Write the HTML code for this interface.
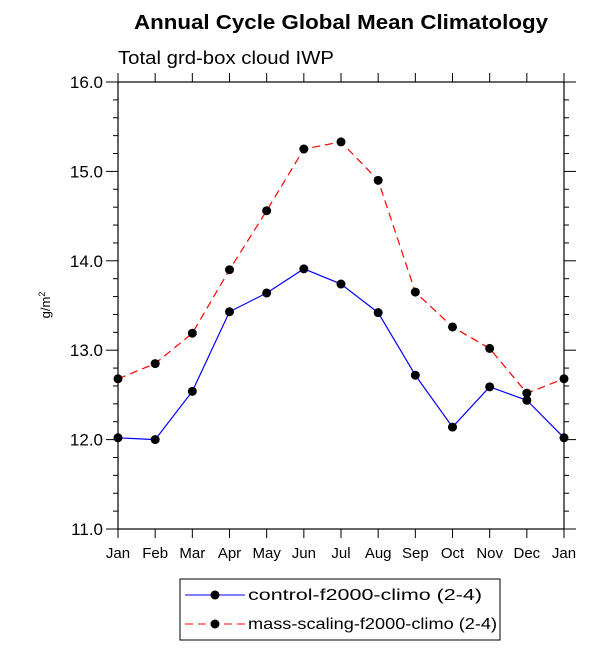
<!DOCTYPE html>
<html><head><meta charset="utf-8"><style>
body{margin:0;background:#fff;font-family:"Liberation Sans",Arial,sans-serif}
</style></head><body>
<svg id="chart" width="612" height="653" xmlns="http://www.w3.org/2000/svg" font-family="Liberation Sans, Arial, sans-serif">
<text x="134" y="29" font-size="20" font-weight="bold" textLength="414" lengthAdjust="spacingAndGlyphs">Annual Cycle Global Mean Climatology</text>
<text x="118" y="64" font-size="18" textLength="216" lengthAdjust="spacingAndGlyphs">Total grd-box cloud IWP</text>
<text transform="translate(50,305) rotate(-90)" text-anchor="middle" font-size="13">g/m<tspan font-size="9" dy="-5">2</tspan></text>
<g id="axes"></g>
<g id="series"></g>
<g>
<rect x="180" y="579" width="320" height="61" fill="none" stroke="#000" stroke-width="1"/>
<line x1="185" y1="595" x2="245" y2="595" stroke="#00f" stroke-width="1"/>
<circle cx="215" cy="595" r="4.5" fill="#000"/>
<text x="248" y="600" font-size="16" textLength="234" lengthAdjust="spacingAndGlyphs">control-f2000-climo (2-4)</text>
<line x1="185" y1="624" x2="245" y2="624" stroke="#f00" stroke-width="1" stroke-dasharray="8,5"/>
<circle cx="215" cy="624" r="4.5" fill="#000"/>
<text x="248" y="629" font-size="16" textLength="249" lengthAdjust="spacingAndGlyphs">mass-scaling-f2000-climo (2-4)</text>
</g>
</svg>
<script>
const months=["Jan","Feb","Mar","Apr","May","Jun","Jul","Aug","Sep","Oct","Nov","Dec","Jan"];
const controlVals=[12.02,12.0,12.54,13.43,13.64,13.91,13.74,13.42,12.72,12.14,12.59,12.44,12.02];
const massVals=[12.68,12.85,13.19,13.90,14.56,15.25,15.33,14.90,13.65,13.26,13.02,12.52,12.68];
const yTicks=["11.0","12.0","13.0","14.0","15.0","16.0"];
const NS="http://www.w3.org/2000/svg";
const L=118,R=564,T=82,B=529,yMin=11,yMax=16;
const xs=i=>L+(R-L)*i/(months.length-1);
const ys=v=>B-(B-T)*(v-yMin)/(yMax-yMin);
function mk(tag,attrs,parent){const e=document.createElementNS(NS,tag);for(const k in attrs)e.setAttribute(k,attrs[k]);parent.appendChild(e);return e;}
const ax=document.getElementById('axes');
const frame=mk('rect',{x:L,y:T,width:R-L,height:B-T,fill:'none',stroke:'#000','stroke-width':1.2},ax);


months.forEach((m,i)=>{const x=xs(i);
 mk('line',{x1:x,y1:B,x2:x,y2:B+9,stroke:'#000'},ax);
 mk('line',{x1:x,y1:T,x2:x,y2:T-9,stroke:'#000'},ax);
 const t=mk('text',{x:x,y:B+29,'text-anchor':'middle','font-size':15},ax);t.textContent=m;
 
 
});
for(let v=yMin;v<=yMax+1e-9;v+=0.2){const y=ys(v);const major=Math.abs(v-Math.round(v))<1e-6;const len=major?12:5;
 mk('line',{x1:L-len,y1:y,x2:L,y2:y,stroke:'#000'},ax);
 mk('line',{x1:R,y1:y,x2:R+len,y2:y,stroke:'#000'},ax);}
yTicks.forEach(s=>{const v=parseFloat(s);const t=mk('text',{x:L-15,y:ys(v)+6,'text-anchor':'end','font-size':17},ax);t.textContent=s;
 
 });
const sg=document.getElementById('series');
function series(vals,color,dash,name){
 const p=mk('polyline',{points:vals.map((v,i)=>xs(i)+','+ys(v)).join(' '),fill:'none',stroke:color,'stroke-width':1.2,'stroke-dasharray':dash},sg);
 
 
 vals.forEach((v,i)=>{const c=mk('circle',{cx:xs(i),cy:ys(v),r:4.5,fill:'#000'},sg);
  
  });
}
series(massVals,'#f00','8,5','mass-scaling');
series(controlVals,'#00f','none','control');
</script>
</body></html>
